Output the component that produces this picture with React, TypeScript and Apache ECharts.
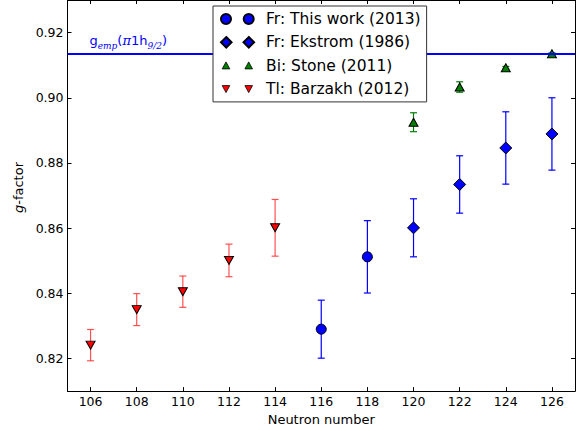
import React, { useEffect, useRef } from "react";
import * as echarts from "echarts";

const xTicks = [106, 108, 110, 112, 114, 116, 118, 120, 122, 124, 126];
const yTicks = [0.82, 0.84, 0.86, 0.88, 0.9, 0.92];

const tlN = [106, 108, 110, 112, 114];
const tlG = [0.8241, 0.835, 0.8405, 0.8501, 0.8601];
const tlErr = [0.0048, 0.0049, 0.0048, 0.005, 0.0087];

const frN = [116, 118];
const frG = [0.829, 0.8512];
const frErr = [0.0089, 0.0111];

const ekN = [120, 122, 124, 126];
const ekG = [0.8601, 0.8734, 0.8846, 0.8889];
const ekErr = [0.0089, 0.0088, 0.0111, 0.0111];

const biN = [120, 122, 124, 126];
const biG = [0.8925, 0.9033, 0.9092, 0.9135];
const biErr = [0.0029, 0.0016, 0.0004, 0.0003];

const gEmp = 0.9134;

const names = ["Fr: This work (2013)", "Fr: Ekstrom (1986)", "Bi: Stone (2011)", "Tl: Barzakh (2012)"];

const FONT = "DejaVu Sans";

const pts = (N: number[], G: number[]) => N.map((n, i) => [n, G[i]]);
const errs = (N: number[], G: number[], E: number[]) => N.map((n, i) => [n, G[i] - E[i], G[i] + E[i]]);

function errSeries(data: number[][], color: string) {
  return {
    type: "custom",
    silent: true,
    z: 1,
    data,
    renderItem: (params: any, api: any) => {
      const x = api.value(0);
      const lo = api.coord([x, api.value(1)]);
      const hi = api.coord([x, api.value(2)]);
      const w = 3.5;
      const style = { stroke: color, lineWidth: 1.2, fill: "none" };
      return {
        type: "group",
        children: [
          { type: "line", shape: { x1: lo[0], y1: lo[1], x2: hi[0], y2: hi[1] }, style },
          { type: "line", shape: { x1: lo[0] - w, y1: lo[1], x2: lo[0] + w, y2: lo[1] }, style },
          { type: "line", shape: { x1: hi[0] - w, y1: hi[1], x2: hi[0] + w, y2: hi[1] }, style },
        ],
      };
    },
  };
}

const iconCircle =
  "path://M0,0M40,12M0,6a5,5 0 1,0 10,0a5,5 0 1,0 -10,0ZM22.7,6a5,5 0 1,0 10,0a5,5 0 1,0 -10,0Z";
const iconDiamond = "path://M0,0M40,12M5,0.7L10.3,6L5,11.3L-0.3,6ZM27.7,0.7L33,6L27.7,11.3L22.4,6Z";
const iconUp = "path://M0,0M40,12M5,2.3L8.8,9.3L1.2,9.3ZM27.7,2.3L31.5,9.3L23.9,9.3Z";
const iconDown = "path://M0,0M40,12M1.2,2.7L8.8,2.7L5,9.7ZM23.9,2.7L31.5,2.7L27.7,9.7Z";

export default function App() {
  const ref = useRef<HTMLDivElement>(null);
  useEffect(() => {
    document.body.style.margin = "0";
    const chart = echarts.init(ref.current!, null, { renderer: "svg" });
    const axisCommon = {
      type: "value",
      axisLine: { show: true, onZero: false, lineStyle: { color: "#000", width: 1 } },
      splitLine: { show: false },
    };
    chart.setOption({
      animation: false,
      textStyle: { fontFamily: FONT },
      grid: { left: 67.5, right: 9, top: -2, bottom: 38 },
      xAxis: [
        {
          ...axisCommon,
          min: 105,
          max: 127,
          position: "bottom",
          axisTick: { inside: true, length: 4, customValues: xTicks, lineStyle: { color: "#000" } },
          axisLabel: { customValues: xTicks, color: "#000", fontSize: 12.5, margin: 4, fontFamily: FONT },
          name: "Neutron number",
          nameLocation: "middle",
          nameGap: 18,
          nameTextStyle: { fontSize: 13, color: "#000", fontFamily: FONT },
        },
        {
          ...axisCommon,
          min: 105,
          max: 127,
          position: "top",
          axisTick: { inside: true, length: 4, customValues: xTicks, lineStyle: { color: "#000" } },
          axisLabel: { show: false },
        },
      ],
      yAxis: [
        {
          ...axisCommon,
          min: 0.81,
          max: 0.93,
          position: "left",
          axisTick: { inside: true, length: 4, customValues: yTicks, lineStyle: { color: "#000" } },
          axisLabel: {
            customValues: yTicks,
            color: "#000",
            fontSize: 12.5,
            margin: 4,
            fontFamily: FONT,
            formatter: (v: number) => v.toFixed(2),
          },
          name: "{i|g}-factor",
          nameLocation: "middle",
          nameGap: 37,
          nameTextStyle: {
            fontSize: 13,
            color: "#000",
            fontFamily: FONT,
            padding: [0, 0, 0, 16],
            rich: { i: { fontStyle: "italic", fontSize: 13, fontFamily: FONT, color: "#000" } },
          },
        },
        {
          ...axisCommon,
          min: 0.81,
          max: 0.93,
          position: "right",
          axisTick: { inside: true, length: 4, customValues: yTicks, lineStyle: { color: "#000" } },
          axisLabel: { show: false },
        },
      ],
      legend: {
        orient: "vertical",
        left: 213,
        top: 6,
        z: 20,
        padding: [5, 6, 5, 7],
        itemGap: 7.3,
        itemWidth: 40,
        itemHeight: 12,
        backgroundColor: "#fff",
        borderColor: "#333",
        borderWidth: 1,
        selectedMode: false,
        textStyle: { fontSize: 15.5, color: "#000", fontFamily: FONT, lineHeight: 16 },
        data: [
          { name: names[0], icon: iconCircle },
          { name: names[1], icon: iconDiamond },
          { name: names[2], icon: iconUp, itemStyle: { borderWidth: 0.8 } },
          { name: names[3], icon: iconDown, itemStyle: { borderWidth: 0.8 } },
        ],
      },
      series: [
        {
          type: "line",
          data: [],
          silent: true,
          z: 1,
          markLine: {
            silent: true,
            precision: 4,
            symbol: ["none", "none"],
            lineStyle: { color: "#0000ff", width: 2, type: "solid" },
            label: {
              show: true,
              position: "insideStartTop",
              distance: [22, 4],
              color: "#0000ff",
              formatter: "{n|g}{s|emp}{n|(}{p|π}{n|1h}{s|9/2}{n|)}",
              rich: {
                n: { fontSize: 13, color: "#0000ff", fontFamily: FONT, lineHeight: 20, verticalAlign: "middle" },
                p: {
                  fontSize: 13,
                  color: "#0000ff",
                  fontFamily: "DejaVu Serif",
                  fontStyle: "italic",
                  lineHeight: 20,
                  verticalAlign: "middle",
                },
                s: {
                  fontSize: 9,
                  color: "#0000ff",
                  fontFamily: "DejaVu Serif",
                  fontStyle: "italic",
                  lineHeight: 20,
                  verticalAlign: "bottom",
                },
              },
            },
            data: [{ yAxis: gEmp }],
          },
        },
        errSeries(errs(tlN, tlG, tlErr), "rgba(255,40,40,0.8)"),
        errSeries(errs(frN, frG, frErr), "#0000ff"),
        errSeries(errs(ekN, ekG, ekErr), "#0000ff"),
        errSeries(errs(biN, biG, biErr), "#008000"),
        {
          name: names[0],
          type: "scatter",
          z: 3,
          data: pts(frN, frG),
          symbol: "circle",
          symbolSize: 10,
          itemStyle: { color: "#0000ff", borderColor: "#000", borderWidth: 1, opacity: 1 },
        },
        {
          name: names[1],
          type: "scatter",
          z: 3,
          data: pts(ekN, ekG),
          symbol: "diamond",
          symbolSize: 12,
          itemStyle: { color: "#0000ff", borderColor: "#000", borderWidth: 1, opacity: 1 },
        },
        {
          name: names[2],
          type: "scatter",
          z: 3,
          data: pts(biN, biG),
          symbol: "triangle",
          symbolSize: [9, 8],
          itemStyle: { color: "#008000", borderColor: "#000", borderWidth: 1, opacity: 1 },
        },
        {
          name: names[3],
          type: "scatter",
          z: 3,
          data: pts(tlN, tlG),
          symbol: "triangle",
          symbolRotate: 180,
          symbolSize: [9, 8],
          itemStyle: { color: "#ff0000", borderColor: "#000", borderWidth: 1, opacity: 1 },
        },
      ],
    });
    return () => chart.dispose();
  }, []);
  return <div ref={ref} style={{ width: 584, height: 431 }} />;
}
